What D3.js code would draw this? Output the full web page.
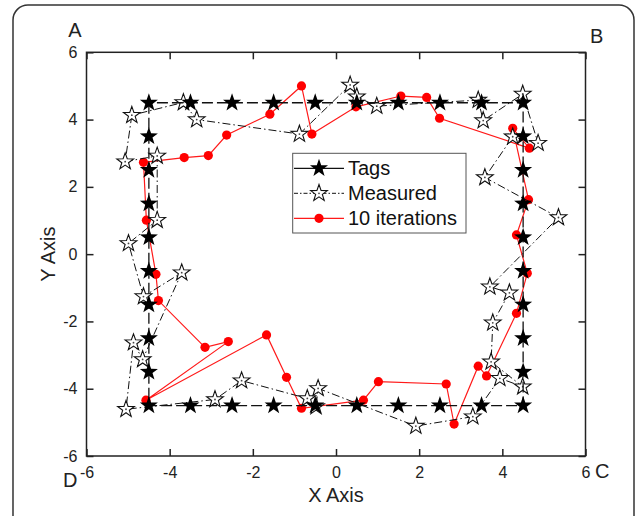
<!DOCTYPE html>
<html><head><meta charset="utf-8">
<script src="https://cdn.jsdelivr.net/npm/d3@7"></script>
<style>html,body{margin:0;padding:0;background:#fff;} svg{display:block;font-family:"Liberation Sans",Arial,sans-serif;}</style>
</head><body><svg id="c" width="637" height="516"></svg>
<script>
// ---- data ----
const axisTicks = [-6, -4, -2, 0, 2, 4, 6];
const seriesNames = ["Tags", "Measured", "10 iterations"];
const cornerLabels = ["A", "B", "C", "D"];

const tagsX = [-4.5,-4.5,-4.5,-4.5,-4.5,-4.5,-4.5,-4.5,-4.5,-4.5,
  -3.5,-2.5,-1.5,-0.5,0.5,1.5,2.5,3.5,
  4.5,4.5,4.5,4.5,4.5,4.5,4.5,4.5,4.5,4.5,
  3.5,2.5,1.5,0.5,-0.5,-1.5,-2.5,-3.5];
const tagsY = [4.5,3.5,2.5,1.5,0.5,-0.5,-1.5,-2.5,-3.5,-4.5,
  -4.5,-4.5,-4.5,-4.5,-4.5,-4.5,-4.5,-4.5,
  -4.5,-3.5,-2.5,-1.5,-0.5,0.5,1.5,2.5,3.5,4.5,
  4.5,4.5,4.5,4.5,4.5,4.5,4.5,4.5];

const measuredX = [-4.91,-5.07,-4.30,-4.30,-4.99,-4.63,-3.71,-4.65,-4.87,-5.05,
  -2.91,-2.27,-0.69,-0.48,-0.43,1.92,3.29,3.94,
  4.49,3.73,3.77,4.17,3.70,5.35,3.58,4.25,4.86,4.49,
  3.54,3.42,0.98,0.50,0.34,-0.88,-3.35,-3.67];
const measuredY = [4.13,2.75,2.92,1.01,0.32,-1.26,-0.55,-3.13,-2.63,-4.61,
  -4.32,-3.76,-4.29,-4.53,-3.99,-5.11,-4.83,-3.69,
  -3.94,-3.20,-2.04,-1.15,-0.97,1.09,2.28,3.49,3.30,4.76,
  3.97,4.58,4.40,4.68,5.03,3.57,4.00,4.51];

const iterX = [-4.63,-4.56,-4.33,-4.27,-3.15,-2.59,-4.57,-1.67,-1.19,-0.83,
  0.66,1.02,2.65,2.84,3.42,3.62,4.34,4.60,4.34,4.63,
  4.25,4.65,2.49,2.18,1.56,0.48,-0.58,-0.83,-1.59,-2.63,-3.07,-3.65];
const iterY = [2.73,1.01,-0.60,-1.38,-2.77,-2.60,-4.34,-2.40,-3.66,-4.58,
  -4.34,-3.79,-3.86,-5.05,-3.33,-3.62,-1.76,-0.57,0.57,1.62,
  3.74,3.15,4.04,4.66,4.70,4.38,3.57,5.00,4.16,3.54,2.93,2.87];

// ---- chart ----
const svg = d3.select("#c");
const x = d3.scaleLinear().domain([-6, 6]).range([86.5, 585.5]);
const y = d3.scaleLinear().domain([-6, 6]).range([456, 52.3]);
const fmt = d => d < 0 ? "-" + Math.abs(d) : String(d);

// outer rounded frame
svg.append("rect").attr("x", 13).attr("y", 5).attr("width", 621).attr("height", 540)
  .attr("rx", 15).attr("fill", "none").attr("stroke", "#333").attr("stroke-width", 1.5);

const zip = (a, b) => a.map((v, i) => [v, b[i]]);
const tags = zip(tagsX, tagsY), meas = zip(measuredX, measuredY), iters = zip(iterX, iterY);

const line = d3.line().x(d => x(d[0])).y(d => y(d[1])).curve(d3.curveLinearClosed);

const starType = {draw(ctx, size) {
  const R = Math.sqrt(size), r = R * 0.40;
  for (let i = 0; i < 10; i++) {
    const rad = i % 2 ? r : R, a = -Math.PI / 2 + i * Math.PI / 5;
    const px = rad * Math.cos(a), py = rad * Math.sin(a);
    if (i) ctx.lineTo(px, py); else ctx.moveTo(px, py);
  }
  ctx.closePath();
}};
const tagStar = d3.symbol().type(starType).size(9.5 * 9.5)();
const openStar = d3.symbol().type(starType).size(8.8 * 8.8)();

// axes (ticks inward)
const axG = svg.append("g");
axG.append("g").attr("transform", `translate(0,${y(-6)})`)
  .call(d3.axisBottom(x).tickValues(axisTicks).tickFormat(fmt).tickSizeInner(-7).tickSizeOuter(0).tickPadding(10.5));
axG.append("g").attr("transform", `translate(${x(-6)},0)`)
  .call(d3.axisLeft(y).tickValues(axisTicks).tickFormat(fmt).tickSizeInner(-7).tickSizeOuter(0).tickPadding(9));
axG.append("g").attr("transform", `translate(0,${y(6)})`)
  .call(d3.axisTop(x).tickValues(axisTicks).tickFormat("").tickSizeInner(-7).tickSizeOuter(0));
axG.append("g").attr("transform", `translate(${x(6)},0)`)
  .call(d3.axisRight(y).tickValues(axisTicks).tickFormat("").tickSizeInner(-7).tickSizeOuter(0));
axG.selectAll(".domain").remove();
axG.selectAll(".tick line").attr("stroke", "#222").attr("stroke-width", 1.5);
axG.selectAll(".tick text").attr("fill", "#222").attr("font-size", 16)
  .attr("font-family", "Liberation Sans, Arial, sans-serif");
svg.append("rect").attr("x", x(-6)).attr("y", y(6)).attr("width", x(6) - x(-6)).attr("height", y(-6) - y(6))
  .attr("fill", "none").attr("stroke", "#222").attr("stroke-width", 1.5);

// series: 10 iterations (bottom)
svg.append("path").attr("d", line(iters)).attr("fill", "none").attr("stroke", "#ff1a1a").attr("stroke-width", 1.2);
svg.append("g").selectAll("circle").data(iters).join("circle")
  .attr("cx", d => x(d[0])).attr("cy", d => y(d[1])).attr("r", 4.6).attr("fill", "#ff0000");

// Measured
svg.append("path").attr("d", line(meas)).attr("fill", "none").attr("stroke", "#111")
  .attr("stroke-width", 1).attr("stroke-dasharray", "8,3,1.5,3");
const mg = svg.append("g").selectAll("g").data(meas).join("g")
  .attr("transform", d => `translate(${x(d[0])},${y(d[1])})`);
mg.append("path").attr("d", openStar).attr("fill", "#fff").attr("stroke", "#111").attr("stroke-width", 1.1);
mg.append("circle").attr("r", 0.9).attr("fill", "#444");

// Tags
svg.append("path").attr("d", line(tags)).attr("fill", "none").attr("stroke", "#111")
  .attr("stroke-width", 1.3).attr("stroke-dasharray", "11,4");
svg.append("g").selectAll("path").data(tags).join("path")
  .attr("transform", d => `translate(${x(d[0])},${y(d[1])})`).attr("d", tagStar).attr("fill", "#000");

// corner labels
const cl = svg.append("g").attr("font-size", 20).attr("fill", "#222");
cl.append("text").attr("x", 75).attr("y", 37).attr("text-anchor", "middle").text(cornerLabels[0]);
cl.append("text").attr("x", 590).attr("y", 43).text(cornerLabels[1]);
cl.append("text").attr("x", 595).attr("y", 478).text(cornerLabels[2]);
cl.append("text").attr("x", 63).attr("y", 487).text(cornerLabels[3]);

// axis titles
svg.append("text").attr("x", (x(-6) + x(6)) / 2).attr("y", 502).attr("text-anchor", "middle")
  .attr("font-size", 20).attr("fill", "#222").text("X Axis");
svg.append("text").attr("transform", `translate(55,${(y(-6) + y(6)) / 2}) rotate(-90)`).attr("text-anchor", "middle")
  .attr("font-size", 20).attr("fill", "#222").text("Y Axis");

// legend
const lg = svg.append("g");
lg.append("rect").attr("x", 292.7).attr("y", 153.3).attr("width", 173.3).attr("height", 79.7)
  .attr("fill", "#fff").attr("stroke", "#555").attr("stroke-width", 1);
const rows = [168.3, 193.3, 218.3];
seriesNames.forEach((name, i) => {
  const g = lg.append("g").attr("transform", `translate(0,${rows[i]})`);
  const ln = g.append("line").attr("x1", 294).attr("x2", 344).attr("y1", 0).attr("y2", 0);
  if (i === 0) {
    ln.attr("stroke", "#111").attr("stroke-width", 1.3);
    g.append("path").attr("transform", "translate(319,0)").attr("d", tagStar).attr("fill", "#000");
  } else if (i === 1) {
    ln.attr("stroke", "#111").attr("stroke-width", 1).attr("stroke-dasharray", "4,2,1.5,2");
    g.append("path").attr("transform", "translate(319,0)").attr("d", openStar).attr("fill", "#fff").attr("stroke", "#111").attr("stroke-width", 1.1);
    g.append("circle").attr("cx", 319).attr("r", 0.9).attr("fill", "#444");
  } else {
    ln.attr("stroke", "#ff1a1a").attr("stroke-width", 1.2);
    g.append("circle").attr("cx", 319).attr("r", 4.6).attr("fill", "#ff0000");
  }
  g.append("text").attr("x", 348).attr("y", 7).attr("font-size", 20).attr("fill", "#111").text(name);
});
</script></body></html>
